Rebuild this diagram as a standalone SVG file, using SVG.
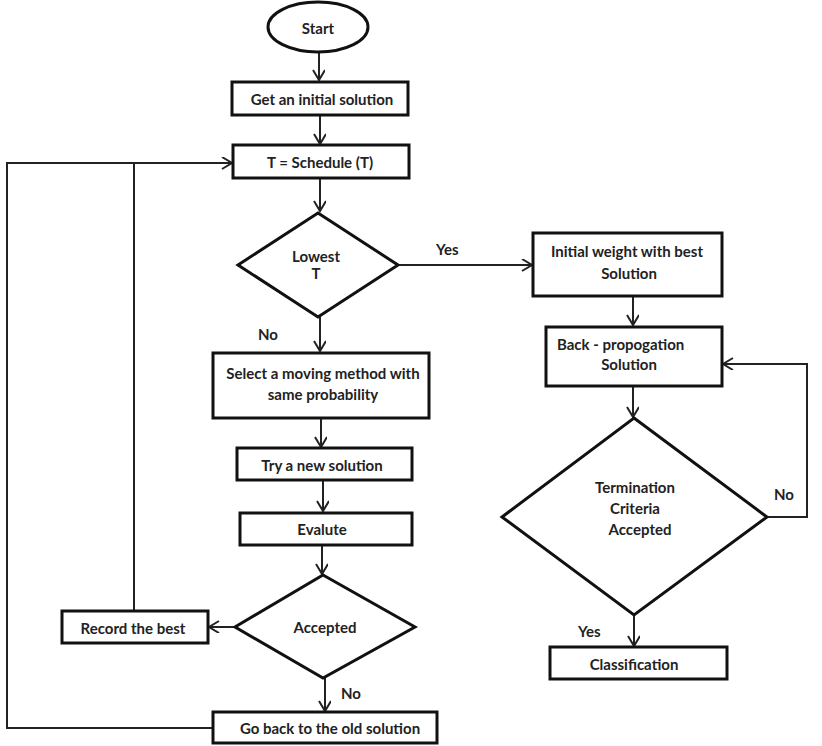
<svg xmlns="http://www.w3.org/2000/svg" width="822" height="746" viewBox="0 0 822 746">
<style>
.box{fill:#fff;stroke:#111;stroke-width:3}
.ln{fill:none;stroke:#222;stroke-width:2}
.t{font-family:Lato,"Liberation Sans",sans-serif;font-weight:bold;font-size:15px;fill:#222;text-anchor:middle;dominant-baseline:central}
.lbl{font-family:Lato,"Liberation Sans",sans-serif;font-weight:bold;font-size:15px;fill:#222;dominant-baseline:central}
</style>
<defs>
<marker id="arr" markerWidth="14" markerHeight="14" refX="11" refY="6" orient="auto" markerUnits="userSpaceOnUse">
<path d="M1,0 L11,6 L1,12" fill="none" stroke="#222" stroke-width="2"/>
</marker>
</defs>
<rect width="822" height="746" fill="#fff"/>
<g id="connectors">
<path class="ln" d="M319,52 V80" marker-end="url(#arr)"/>
<path class="ln" d="M320,115 V144" marker-end="url(#arr)"/>
<path class="ln" d="M320,178 V211" marker-end="url(#arr)"/>
<path class="ln" d="M320,317 V351" marker-end="url(#arr)"/>
<path class="ln" d="M398,265 H532" marker-end="url(#arr)"/>
<path class="ln" d="M633,296 V325" marker-end="url(#arr)"/>
<path class="ln" d="M633,386 V417" marker-end="url(#arr)"/>
<path class="ln" d="M767,517 H807 V364 H723" marker-end="url(#arr)"/>
<path class="ln" d="M634,615 V646" marker-end="url(#arr)"/>
<path class="ln" d="M321,418 V447" marker-end="url(#arr)"/>
<path class="ln" d="M323,480 V511" marker-end="url(#arr)"/>
<path class="ln" d="M322,545 V574" marker-end="url(#arr)"/>
<path class="ln" d="M235,627 H209" marker-end="url(#arr)"/>
<path class="ln" d="M325,678 V711" marker-end="url(#arr)"/>
<path class="ln" d="M134,611 V163"/>
<path class="ln" d="M213,728 H7 V163 H232" marker-end="url(#arr)"/>
<text class="lbl" x="436" y="249">Yes</text>
<text class="lbl" x="258" y="334">No</text>
<text class="lbl" x="774" y="494">No</text>
<text class="lbl" x="578" y="631">Yes</text>
<text class="lbl" x="341" y="693">No</text>
</g>
<g id="start"><ellipse class="box" cx="318" cy="27" rx="50" ry="25"/><text class="t" x="318" y="28">Start</text></g>
<g id="init"><rect class="box" x="232" y="82" width="176" height="33"/><text class="t" x="322" y="99">Get an initial solution</text></g>
<g id="schedule"><rect class="box" x="233" y="145" width="176" height="33"/><text class="t" x="320" y="162">T = Schedule (T)</text></g>
<g id="lowest"><polygon class="box" points="318,213 398,265 318,317 238,265"/><text class="t" x="316" y="256">Lowest</text><text class="t" x="316" y="273">T</text></g>
<g id="weight"><rect class="box" x="533" y="233" width="189" height="63"/><text class="t" x="627" y="251">Initial weight with best</text><text class="t" x="629" y="273">Solution</text></g>
<g id="backprop"><rect class="box" x="546" y="327" width="176" height="59"/><text class="t" x="557" y="344" style="text-anchor:start">Back - propogation</text><text class="t" x="629" y="364">Solution</text></g>
<g id="termination"><polygon class="box" points="634,418 767,517 634,615 502,517"/><text class="t" x="635" y="487">Termination</text><text class="t" x="635" y="508">Criteria</text><text class="t" x="640" y="529">Accepted</text></g>
<g id="classification"><rect class="box" x="550" y="647" width="177" height="32"/><text class="t" x="634" y="664">Classification</text></g>
<g id="select"><rect class="box" x="213" y="353" width="216" height="65"/><text class="t" x="323" y="373">Select a moving method with</text><text class="t" x="323" y="394">same probability</text></g>
<g id="try"><rect class="box" x="237" y="448" width="175" height="32"/><text class="t" x="322" y="465">Try a new solution</text></g>
<g id="evalute"><rect class="box" x="240" y="513" width="172" height="32"/><text class="t" x="322" y="529">Evalute</text></g>
<g id="accepted"><polygon class="box" points="323,575 415,627 323,678 235,627"/><text class="t" x="325" y="627">Accepted</text></g>
<g id="record"><rect class="box" x="62" y="611" width="146" height="32"/><text class="t" x="133" y="628">Record the best</text></g>
<g id="goback"><rect class="box" x="213" y="712" width="224" height="31"/><text class="t" x="330" y="728">Go back to the old solution</text></g>
</svg>
